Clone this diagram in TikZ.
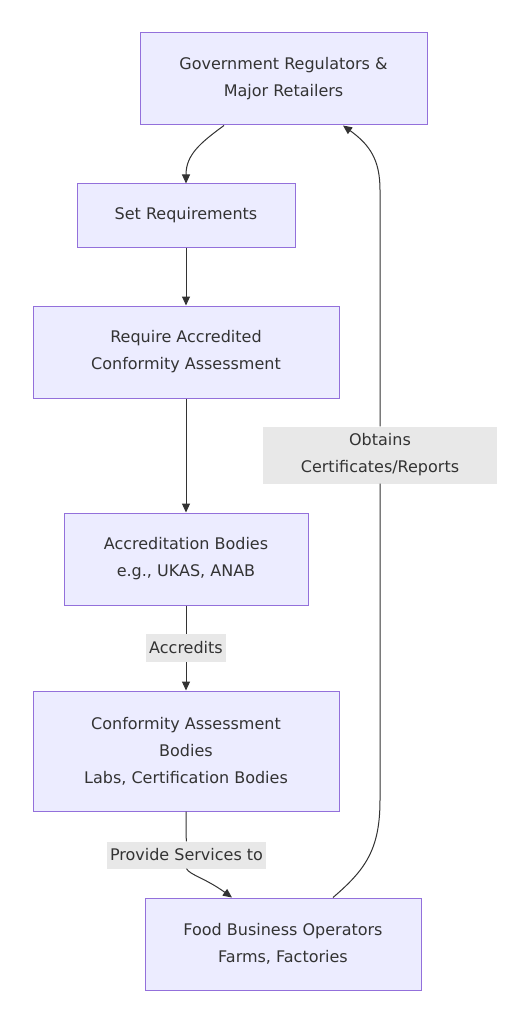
\documentclass[tikz,border=0pt]{standalone}
\usepackage{fontspec}
\setmainfont{DejaVu Sans}
\usetikzlibrary{arrows.meta}
\definecolor{nfill}{HTML}{ECECFF}
\definecolor{nstroke}{HTML}{9370DB}
\definecolor{ntext}{HTML}{333333}
\definecolor{lfill}{HTML}{E8E8E8}
\definecolor{edge}{HTML}{333333}
\begin{document}
\begin{tikzpicture}[x=1pt,y=-1pt,
  box/.style={draw=nstroke,fill=nfill,line width=1pt,text=ntext,align=center,inner sep=0pt,
    font=\fontsize{16}{27}\selectfont},
  elabel/.style={fill=lfill,text=ntext,align=center,inner sep=0pt,font=\fontsize{16}{27}\selectfont},
  conn/.style={draw=edge,line width=1pt,-{Triangle[length=9pt,width=8pt]}}]
\useasboundingbox (0,0) rectangle (531,1024);
\fill[white] (0,0) rectangle (531,1024);
\node[box,minimum width=287pt,minimum height=92pt] (gov) at (283.5,79) {Government Regulators \&\\Major Retailers};
\node[box,minimum width=218pt,minimum height=63pt] (set) at (186,215.5) {Set Requirements};
\node[box,minimum width=306pt,minimum height=92pt] (req) at (186,352) {Require Accredited\\Conformity Assessment};
\node[box,minimum width=244pt,minimum height=92pt] (acc) at (186,559) {Accreditation Bodies\\e.g., UKAS, ANAB};
\node[box,minimum width=306pt,minimum height=120pt] (cab) at (186,751) {Conformity Assessment\\Bodies\\Labs, Certification Bodies};
\node[box,minimum width=276pt,minimum height=92pt] (food) at (283,944) {Food Business Operators\\Farms, Factories};
\node[elabel,minimum width=234pt,minimum height=57pt] (lobt) at (380,455) {Obtains\\Certificates/Reports};
\node[elabel,minimum width=80pt,minimum height=28pt] (lacc) at (186,648) {Accredits};
\node[elabel,minimum width=159pt,minimum height=27pt] (lprov) at (186.5,855) {Provide Services to};
\coordinate (g1) at (224,125.5);
\coordinate (g2) at (343,125.5);
\coordinate (f1) at (232,897.5);
\coordinate (f2) at (333,897.5);
\coordinate (c1) at (186,811.5);
\draw[conn] (g1) .. controls (200,143) and (186,155) .. (set.north -| 186,0);
\draw[conn] (set.south) -- (req.north);
\draw[conn] (req.south) -- (acc.north);
\draw[draw=edge,line width=1pt] (acc.south) -- (lacc.north);
\draw[conn] (lacc.south) -- (cab.north);
\draw[draw=edge,line width=1pt] (c1) .. controls (186,830) and (186,838) .. (lprov.north);
\draw[conn] (lprov.south) .. controls (190,875) and (205,878) .. (f1);
\draw[draw=edge,line width=1pt] (f2) .. controls (365,870) and (380,850) .. (380,800) -- (lobt.south);
\draw[conn] (lobt.north) -- (380,190) .. controls (380,160) and (370,145) .. (g2);
\end{tikzpicture}
\end{document}
